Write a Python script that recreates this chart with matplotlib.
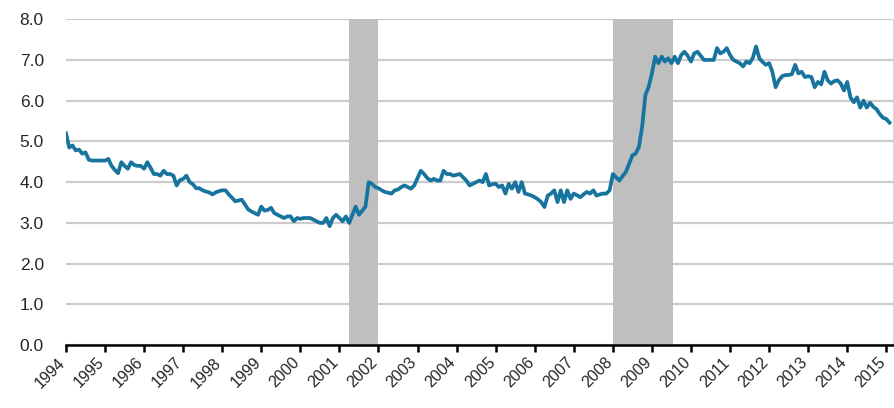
import numpy as np
import matplotlib.pyplot as plt
import matplotlib.transforms as mtransforms

plt.rcParams['font.family'] = ['Liberation Sans', 'DejaVu Sans']

# valores mensais, jan/1994 ate fev/2015
v1994 = [5.2, 4.85, 4.9, 4.78, 4.8, 4.7, 4.73, 4.55, 4.53, 4.53, 4.53, 4.53]
v1995 = [4.53, 4.57, 4.4, 4.3, 4.22, 4.49, 4.4, 4.33, 4.49, 4.42, 4.4, 4.4]
v1996 = [4.33, 4.49, 4.35, 4.2, 4.2, 4.16, 4.28, 4.2, 4.2, 4.16, 3.92, 4.05]
v1997 = [4.08, 4.16, 4.0, 3.95, 3.85, 3.85, 3.8, 3.77, 3.75, 3.7, 3.75, 3.78]
v1998 = [3.8, 3.8, 3.7, 3.62, 3.53, 3.55, 3.57, 3.45, 3.33, 3.28, 3.24, 3.2]
v1999 = [3.4, 3.3, 3.32, 3.37, 3.24, 3.2, 3.16, 3.12, 3.16, 3.16, 3.04, 3.12]
v2000 = [3.1, 3.12, 3.12, 3.12, 3.08, 3.04, 3.0, 3.0, 3.12, 2.92, 3.12, 3.2]
v2001 = [3.12, 3.04, 3.16, 3.0, 3.2, 3.4, 3.2, 3.3, 3.4, 4.0, 3.96, 3.88]
v2002 = [3.85, 3.8, 3.76, 3.74, 3.72, 3.8, 3.82, 3.88, 3.92, 3.88, 3.84, 3.92]
v2003 = [4.1, 4.28, 4.2, 4.1, 4.04, 4.08, 4.04, 4.04, 4.28, 4.2, 4.2, 4.16]
v2004 = [4.18, 4.2, 4.12, 4.04, 3.92, 3.96, 4.0, 4.04, 4.0, 4.2, 3.92, 3.95]
v2005 = [3.96, 3.88, 3.92, 3.72, 3.96, 3.84, 4.0, 3.76, 4.0, 3.72, 3.7, 3.67]
v2006 = [3.63, 3.58, 3.51, 3.39, 3.67, 3.72, 3.8, 3.51, 3.8, 3.51, 3.8, 3.59]
v2007 = [3.72, 3.68, 3.63, 3.7, 3.76, 3.72, 3.8, 3.67, 3.7, 3.72, 3.72, 3.8]
v2008 = [4.2, 4.12, 4.04, 4.15, 4.25, 4.45, 4.66, 4.7, 4.86, 5.36, 6.14, 6.34]
v2009 = [6.67, 7.08, 6.92, 7.08, 6.96, 7.04, 6.92, 7.08, 6.92, 7.12, 7.2, 7.1]
v2010 = [6.96, 7.16, 7.2, 7.1, 7.0, 7.0, 7.0, 7.0, 7.29, 7.16, 7.2, 7.29]
v2011 = [7.12, 7.0, 6.96, 6.92, 6.84, 6.96, 6.92, 7.05, 7.33, 7.04, 6.95, 6.88]
v2012 = [6.92, 6.71, 6.33, 6.5, 6.6, 6.63, 6.63, 6.65, 6.88, 6.67, 6.71, 6.58]
v2013 = [6.6, 6.58, 6.33, 6.46, 6.4, 6.71, 6.5, 6.42, 6.48, 6.5, 6.42, 6.25]
v2014 = [6.46, 6.08, 5.96, 6.08, 5.83, 6.0, 5.83, 5.95, 5.85, 5.79, 5.67, 5.58]
v2015 = [5.55, 5.46]

valores = (v1994 + v1995 + v1996 + v1997 + v1998 + v1999 + v2000 + v2001
           + v2002 + v2003 + v2004 + v2005 + v2006 + v2007 + v2008 + v2009
           + v2010 + v2011 + v2012 + v2013 + v2014 + v2015)

anos = list(range(1994, 2016))
recessoes = [(2001.25, 2002.0), (2008.0, 2009.55)]

x = 1994 + np.arange(len(valores)) / 12

fig = plt.figure(figsize=(8.94, 4.08), dpi=100)
ax = fig.add_axes([0.0738, 0.154, 0.925, 0.799])

for a, b in recessoes:
    ax.axvspan(a, b, color='#bfbfbf', lw=0, zorder=1)

ax.plot(x, valores, color='#17749f', lw=2.7, zorder=3, solid_joinstyle='round')

ax.set_xlim(1994, 2015.17)
ax.set_ylim(0, 8)
ax.set_yticks(np.arange(0, 9, 1))
ax.set_yticklabels(['%.1f' % v for v in range(0, 9)], fontsize=12.5, color='#262626')
ax.set_xticks(anos)
ax.set_xticklabels([str(a) for a in anos], rotation=45, ha='right',
                   rotation_mode='anchor', fontsize=11.5, color='#262626')

ax.grid(axis='y', color='#cccccc', lw=1.6, zorder=0)
ax.set_axisbelow(True)
for s in ['top', 'left']:
    ax.spines[s].set_visible(False)
ax.spines['right'].set_color('#d8d8d8')
ax.spines['bottom'].set_color('black')
ax.spines['bottom'].set_linewidth(1.8)
ax.spines['bottom'].set_zorder(4)
ax.tick_params(axis='y', length=0, pad=16)
ax.tick_params(axis='x', length=5, width=1.8, color='black', pad=2)

# desloca os rotulos do eixo x um pouco para a esquerda (depois do tick_params)
desloc = mtransforms.ScaledTranslation(-6 / 72, 0, fig.dpi_scale_trans)
for lbl in ax.get_xticklabels():
    lbl.set_transform(lbl.get_transform() + desloc)

fig.savefig('out.png', dpi=100)
